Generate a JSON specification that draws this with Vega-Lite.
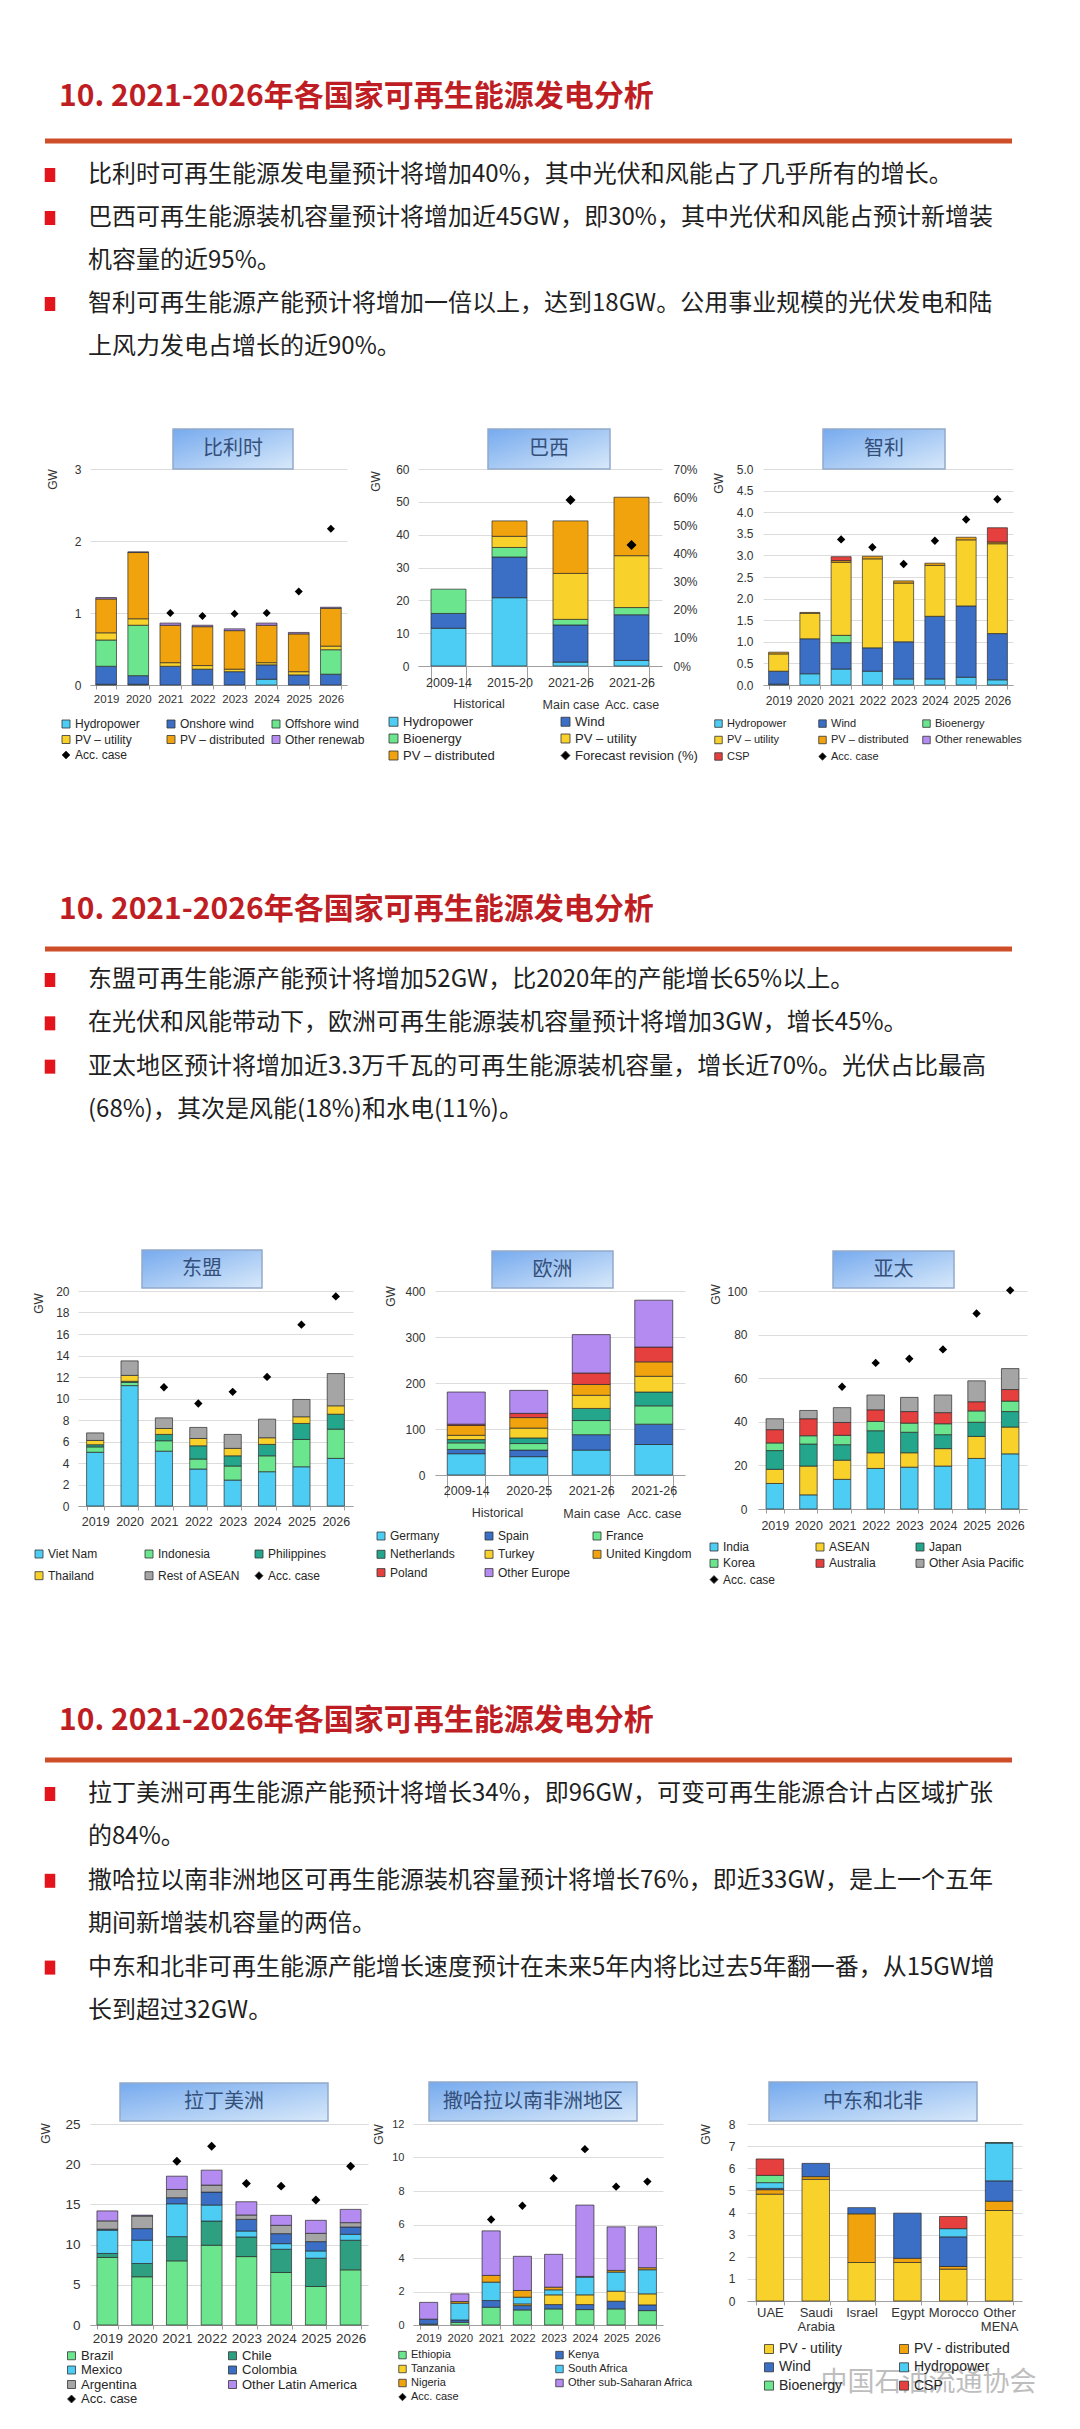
{
"$schema":"https://vega.github.io/schema/vega-lite/v6.json",
"background":"white","padding":0,"spacing":0,
"resolve":{"scale":{"color":"independent","shape":"independent"}},
"datasets":{
"be":[
{"c":"2019","s":"Hydropower","v":0.01,"k":0},{"c":"2019","s":"Onshore wind","v":0.25,"k":1},{"c":"2019","s":"Offshore wind","v":0.365,"k":2},{"c":"2019","s":"PV – utility","v":0.1,"k":3},{"c":"2019","s":"PV – distributed","v":0.47,"k":4},{"c":"2019","s":"Other renewables","v":0.02,"k":5},
{"c":"2020","s":"Hydropower","v":0.01,"k":0},{"c":"2020","s":"Onshore wind","v":0.12,"k":1},{"c":"2020","s":"Offshore wind","v":0.7,"k":2},{"c":"2020","s":"PV – utility","v":0.09,"k":3},{"c":"2020","s":"PV – distributed","v":0.92,"k":4},{"c":"2020","s":"Other renewables","v":0.01,"k":5},
{"c":"2021","s":"Onshore wind","v":0.26,"k":1},{"c":"2021","s":"PV – utility","v":0.05,"k":3},{"c":"2021","s":"PV – distributed","v":0.52,"k":4},{"c":"2021","s":"Other renewables","v":0.03,"k":5},
{"c":"2022","s":"Onshore wind","v":0.22,"k":1},{"c":"2022","s":"PV – utility","v":0.05,"k":3},{"c":"2022","s":"PV – distributed","v":0.54,"k":4},{"c":"2022","s":"Other renewables","v":0.02,"k":5},
{"c":"2023","s":"Onshore wind","v":0.185,"k":1},{"c":"2023","s":"PV – utility","v":0.035,"k":3},{"c":"2023","s":"PV – distributed","v":0.535,"k":4},{"c":"2023","s":"Other renewables","v":0.025,"k":5},
{"c":"2024","s":"Hydropower","v":0.08,"k":0},{"c":"2024","s":"Onshore wind","v":0.2,"k":1},{"c":"2024","s":"PV – utility","v":0.03,"k":3},{"c":"2024","s":"PV – distributed","v":0.52,"k":4},{"c":"2024","s":"Other renewables","v":0.03,"k":5},
{"c":"2025","s":"Onshore wind","v":0.14,"k":1},{"c":"2025","s":"PV – utility","v":0.045,"k":3},{"c":"2025","s":"PV – distributed","v":0.525,"k":4},{"c":"2025","s":"Other renewables","v":0.02,"k":5},
{"c":"2026","s":"Onshore wind","v":0.15,"k":1},{"c":"2026","s":"Offshore wind","v":0.34,"k":2},{"c":"2026","s":"PV – utility","v":0.05,"k":3},{"c":"2026","s":"PV – distributed","v":0.525,"k":4},{"c":"2026","s":"Other renewables","v":0.015,"k":5}],
"be_acc":[{"c":"2021","s":"Acc. case","v":1.0},{"c":"2022","s":"Acc. case","v":0.96},{"c":"2023","s":"Acc. case","v":0.99},{"c":"2024","s":"Acc. case","v":1.0},{"c":"2025","s":"Acc. case","v":1.3},{"c":"2026","s":"Acc. case","v":2.17}],
"br":[
{"c":"2009-14","s":"Hydropower","v":11.5,"k":0},{"c":"2009-14","s":"Wind","v":4.5,"k":1},{"c":"2009-14","s":"Bioenergy","v":7.4,"k":2},
{"c":"2015-20","s":"Hydropower","v":20.8,"k":0},{"c":"2015-20","s":"Wind","v":12.4,"k":1},{"c":"2015-20","s":"Bioenergy","v":2.9,"k":2},{"c":"2015-20","s":"PV – utility","v":3.4,"k":3},{"c":"2015-20","s":"PV – distributed","v":4.7,"k":4},
{"c":"2021-26 Main case","s":"Hydropower","v":1.2,"k":0},{"c":"2021-26 Main case","s":"Wind","v":11.3,"k":1},{"c":"2021-26 Main case","s":"Bioenergy","v":1.7,"k":2},{"c":"2021-26 Main case","s":"PV – utility","v":14.0,"k":3},{"c":"2021-26 Main case","s":"PV – distributed","v":16.0,"k":4},
{"c":"2021-26 Acc. case","s":"Hydropower","v":1.7,"k":0},{"c":"2021-26 Acc. case","s":"Wind","v":13.9,"k":1},{"c":"2021-26 Acc. case","s":"Bioenergy","v":2.2,"k":2},{"c":"2021-26 Acc. case","s":"PV – utility","v":15.8,"k":3},{"c":"2021-26 Acc. case","s":"PV – distributed","v":17.8,"k":4}],
"br_fr":[{"c":"2021-26 Main case","s":"Forecast revision (%)","v":0.59},{"c":"2021-26 Acc. case","s":"Forecast revision (%)","v":0.43}],
"cl":[
{"c":"2019","s":"Hydropower","v":0.02,"k":0},{"c":"2019","s":"Wind","v":0.3,"k":1},{"c":"2019","s":"PV – utility","v":0.4,"k":3},{"c":"2019","s":"PV – distributed","v":0.04,"k":4},
{"c":"2020","s":"Hydropower","v":0.26,"k":0},{"c":"2020","s":"Wind","v":0.81,"k":1},{"c":"2020","s":"PV – utility","v":0.59,"k":3},{"c":"2020","s":"PV – distributed","v":0.02,"k":4},
{"c":"2021","s":"Hydropower","v":0.37,"k":0},{"c":"2021","s":"Wind","v":0.61,"k":1},{"c":"2021","s":"Bioenergy","v":0.17,"k":2},{"c":"2021","s":"PV – utility","v":1.69,"k":3},{"c":"2021","s":"PV – distributed","v":0.04,"k":4},{"c":"2021","s":"CSP","v":0.09,"k":6},
{"c":"2022","s":"Hydropower","v":0.32,"k":0},{"c":"2022","s":"Wind","v":0.54,"k":1},{"c":"2022","s":"PV – utility","v":2.06,"k":3},{"c":"2022","s":"PV – distributed","v":0.06,"k":4},
{"c":"2023","s":"Hydropower","v":0.14,"k":0},{"c":"2023","s":"Wind","v":0.86,"k":1},{"c":"2023","s":"PV – utility","v":1.36,"k":3},{"c":"2023","s":"PV – distributed","v":0.05,"k":4},
{"c":"2024","s":"Hydropower","v":0.14,"k":0},{"c":"2024","s":"Wind","v":1.45,"k":1},{"c":"2024","s":"PV – utility","v":1.18,"k":3},{"c":"2024","s":"PV – distributed","v":0.05,"k":4},
{"c":"2025","s":"Hydropower","v":0.18,"k":0},{"c":"2025","s":"Wind","v":1.65,"k":1},{"c":"2025","s":"PV – utility","v":1.53,"k":3},{"c":"2025","s":"PV – distributed","v":0.06,"k":4},
{"c":"2026","s":"Hydropower","v":0.12,"k":0},{"c":"2026","s":"Wind","v":1.07,"k":1},{"c":"2026","s":"PV – utility","v":2.08,"k":3},{"c":"2026","s":"PV – distributed","v":0.04,"k":4},{"c":"2026","s":"CSP","v":0.33,"k":6}],
"cl_acc":[{"c":"2021","s":"Acc. case","v":3.37},{"c":"2022","s":"Acc. case","v":3.19},{"c":"2023","s":"Acc. case","v":2.8},{"c":"2024","s":"Acc. case","v":3.34},{"c":"2025","s":"Acc. case","v":3.83},{"c":"2026","s":"Acc. case","v":4.3}],
"as":[
{"c":"2019","s":"Viet Nam","v":5.0,"k":0},{"c":"2019","s":"Indonesia","v":0.5,"k":1},{"c":"2019","s":"Philippines","v":0.2,"k":2},{"c":"2019","s":"Thailand","v":0.4,"k":3},{"c":"2019","s":"Rest of ASEAN","v":0.7,"k":4},
{"c":"2020","s":"Viet Nam","v":11.2,"k":0},{"c":"2020","s":"Indonesia","v":0.3,"k":1},{"c":"2020","s":"Philippines","v":0.1,"k":2},{"c":"2020","s":"Thailand","v":0.55,"k":3},{"c":"2020","s":"Rest of ASEAN","v":1.35,"k":4},
{"c":"2021","s":"Viet Nam","v":5.1,"k":0},{"c":"2021","s":"Indonesia","v":0.97,"k":1},{"c":"2021","s":"Philippines","v":0.59,"k":2},{"c":"2021","s":"Thailand","v":0.55,"k":3},{"c":"2021","s":"Rest of ASEAN","v":0.99,"k":4},
{"c":"2022","s":"Viet Nam","v":3.44,"k":0},{"c":"2022","s":"Indonesia","v":0.93,"k":1},{"c":"2022","s":"Philippines","v":1.23,"k":2},{"c":"2022","s":"Thailand","v":0.68,"k":3},{"c":"2022","s":"Rest of ASEAN","v":1.03,"k":4},
{"c":"2023","s":"Viet Nam","v":2.41,"k":0},{"c":"2023","s":"Indonesia","v":1.31,"k":1},{"c":"2023","s":"Philippines","v":0.95,"k":2},{"c":"2023","s":"Thailand","v":0.69,"k":3},{"c":"2023","s":"Rest of ASEAN","v":1.3,"k":4},
{"c":"2024","s":"Viet Nam","v":3.19,"k":0},{"c":"2024","s":"Indonesia","v":1.48,"k":1},{"c":"2024","s":"Philippines","v":1.06,"k":2},{"c":"2024","s":"Thailand","v":0.62,"k":3},{"c":"2024","s":"Rest of ASEAN","v":1.73,"k":4},
{"c":"2025","s":"Viet Nam","v":3.65,"k":0},{"c":"2025","s":"Indonesia","v":2.54,"k":1},{"c":"2025","s":"Philippines","v":1.49,"k":2},{"c":"2025","s":"Thailand","v":0.62,"k":3},{"c":"2025","s":"Rest of ASEAN","v":1.61,"k":4},
{"c":"2026","s":"Viet Nam","v":4.43,"k":0},{"c":"2026","s":"Indonesia","v":2.72,"k":1},{"c":"2026","s":"Philippines","v":1.39,"k":2},{"c":"2026","s":"Thailand","v":0.78,"k":3},{"c":"2026","s":"Rest of ASEAN","v":3.0,"k":4}],
"as_acc":[{"c":"2021","s":"Acc. case","v":11.05},{"c":"2022","s":"Acc. case","v":9.54},{"c":"2023","s":"Acc. case","v":10.62},{"c":"2024","s":"Acc. case","v":12.01},{"c":"2025","s":"Acc. case","v":16.87},{"c":"2026","s":"Acc. case","v":19.5}],
"eu":[
{"c":"2009-14","s":"Germany","v":46.3,"k":0},{"c":"2009-14","s":"Spain","v":9.3,"k":1},{"c":"2009-14","s":"France","v":14.3,"k":2},{"c":"2009-14","s":"Netherlands","v":7.1,"k":3},{"c":"2009-14","s":"Turkey","v":9.3,"k":4},{"c":"2009-14","s":"United Kingdom","v":21.4,"k":5},{"c":"2009-14","s":"Poland","v":2.8,"k":6},{"c":"2009-14","s":"Other Europe","v":69.9,"k":7},
{"c":"2020-25","s":"Germany","v":39.9,"k":0},{"c":"2020-25","s":"Spain","v":14.3,"k":1},{"c":"2020-25","s":"France","v":14.2,"k":2},{"c":"2020-25","s":"Netherlands","v":12.2,"k":3},{"c":"2020-25","s":"Turkey","v":21.4,"k":4},{"c":"2020-25","s":"United Kingdom","v":22.8,"k":5},{"c":"2020-25","s":"Poland","v":9.2,"k":6},{"c":"2020-25","s":"Other Europe","v":50.0,"k":7},
{"c":"2021-26 Main case","s":"Germany","v":54.2,"k":0},{"c":"2021-26 Main case","s":"Spain","v":33.5,"k":1},{"c":"2021-26 Main case","s":"France","v":30.7,"k":2},{"c":"2021-26 Main case","s":"Netherlands","v":26.3,"k":3},{"c":"2021-26 Main case","s":"Turkey","v":28.6,"k":4},{"c":"2021-26 Main case","s":"United Kingdom","v":23.5,"k":5},{"c":"2021-26 Main case","s":"Poland","v":24.9,"k":6},{"c":"2021-26 Main case","s":"Other Europe","v":83.5,"k":7},
{"c":"2021-26 Acc. case","s":"Germany","v":66.3,"k":0},{"c":"2021-26 Acc. case","s":"Spain","v":44.2,"k":1},{"c":"2021-26 Acc. case","s":"France","v":39.9,"k":2},{"c":"2021-26 Acc. case","s":"Netherlands","v":30.0,"k":3},{"c":"2021-26 Acc. case","s":"Turkey","v":34.2,"k":4},{"c":"2021-26 Acc. case","s":"United Kingdom","v":31.4,"k":5},{"c":"2021-26 Acc. case","s":"Poland","v":32.1,"k":6},{"c":"2021-26 Acc. case","s":"Other Europe","v":101.9,"k":7}],
"ap":[
{"c":"2019","s":"India","v":11.7,"k":0},{"c":"2019","s":"ASEAN","v":6.5,"k":1},{"c":"2019","s":"Japan","v":8.6,"k":2},{"c":"2019","s":"Korea","v":3.5,"k":3},{"c":"2019","s":"Australia","v":6.1,"k":4},{"c":"2019","s":"Other Asia Pacific","v":5.0,"k":5},
{"c":"2020","s":"India","v":6.5,"k":0},{"c":"2020","s":"ASEAN","v":13.2,"k":1},{"c":"2020","s":"Japan","v":10.1,"k":2},{"c":"2020","s":"Korea","v":3.8,"k":3},{"c":"2020","s":"Australia","v":7.8,"k":4},{"c":"2020","s":"Other Asia Pacific","v":3.8,"k":5},
{"c":"2021","s":"India","v":13.6,"k":0},{"c":"2021","s":"ASEAN","v":8.8,"k":1},{"c":"2021","s":"Japan","v":7.1,"k":2},{"c":"2021","s":"Korea","v":4.3,"k":3},{"c":"2021","s":"Australia","v":5.9,"k":4},{"c":"2021","s":"Other Asia Pacific","v":6.8,"k":5},
{"c":"2022","s":"India","v":18.6,"k":0},{"c":"2022","s":"ASEAN","v":7.2,"k":1},{"c":"2022","s":"Japan","v":10.1,"k":2},{"c":"2022","s":"Korea","v":4.3,"k":3},{"c":"2022","s":"Australia","v":5.3,"k":4},{"c":"2022","s":"Other Asia Pacific","v":6.8,"k":5},
{"c":"2023","s":"India","v":19.2,"k":0},{"c":"2023","s":"ASEAN","v":6.6,"k":1},{"c":"2023","s":"Japan","v":9.4,"k":2},{"c":"2023","s":"Korea","v":4.2,"k":3},{"c":"2023","s":"Australia","v":5.3,"k":4},{"c":"2023","s":"Other Asia Pacific","v":6.5,"k":5},
{"c":"2024","s":"India","v":19.7,"k":0},{"c":"2024","s":"ASEAN","v":8.0,"k":1},{"c":"2024","s":"Japan","v":6.4,"k":2},{"c":"2024","s":"Korea","v":5.0,"k":3},{"c":"2024","s":"Australia","v":5.1,"k":4},{"c":"2024","s":"Other Asia Pacific","v":8.1,"k":5},
{"c":"2025","s":"India","v":23.2,"k":0},{"c":"2025","s":"ASEAN","v":10.1,"k":1},{"c":"2025","s":"Japan","v":6.5,"k":2},{"c":"2025","s":"Korea","v":5.2,"k":3},{"c":"2025","s":"Australia","v":4.2,"k":4},{"c":"2025","s":"Other Asia Pacific","v":9.6,"k":5},
{"c":"2026","s":"India","v":25.3,"k":0},{"c":"2026","s":"ASEAN","v":12.3,"k":1},{"c":"2026","s":"Japan","v":7.1,"k":2},{"c":"2026","s":"Korea","v":4.8,"k":3},{"c":"2026","s":"Australia","v":5.3,"k":4},{"c":"2026","s":"Other Asia Pacific","v":9.6,"k":5}],
"ap_acc":[{"c":"2021","s":"Acc. case","v":56.1},{"c":"2022","s":"Acc. case","v":67.0},{"c":"2023","s":"Acc. case","v":68.9},{"c":"2024","s":"Acc. case","v":73.2},{"c":"2025","s":"Acc. case","v":89.7},{"c":"2026","s":"Acc. case","v":100.3}],
"la":[
{"c":"2019","s":"Brazil","v":8.4,"k":0},{"c":"2019","s":"Chile","v":0.5,"k":1},{"c":"2019","s":"Mexico","v":2.9,"k":2},{"c":"2019","s":"Colombia","v":0.12,"k":3},{"c":"2019","s":"Argentina","v":1.03,"k":4},{"c":"2019","s":"Other Latin America","v":1.24,"k":5},
{"c":"2020","s":"Brazil","v":6.0,"k":0},{"c":"2020","s":"Chile","v":1.65,"k":1},{"c":"2020","s":"Mexico","v":2.9,"k":2},{"c":"2020","s":"Colombia","v":1.44,"k":3},{"c":"2020","s":"Argentina","v":1.57,"k":4},{"c":"2020","s":"Other Latin America","v":0.1,"k":5},
{"c":"2021","s":"Brazil","v":7.98,"k":0},{"c":"2021","s":"Chile","v":3.01,"k":1},{"c":"2021","s":"Mexico","v":4.09,"k":2},{"c":"2021","s":"Colombia","v":0.75,"k":3},{"c":"2021","s":"Argentina","v":1.03,"k":4},{"c":"2021","s":"Other Latin America","v":1.65,"k":5},
{"c":"2022","s":"Brazil","v":9.92,"k":0},{"c":"2022","s":"Chile","v":3.01,"k":1},{"c":"2022","s":"Mexico","v":1.99,"k":2},{"c":"2022","s":"Colombia","v":1.61,"k":3},{"c":"2022","s":"Argentina","v":0.87,"k":4},{"c":"2022","s":"Other Latin America","v":1.86,"k":5},
{"c":"2023","s":"Brazil","v":8.51,"k":0},{"c":"2023","s":"Chile","v":2.44,"k":1},{"c":"2023","s":"Mexico","v":0.74,"k":2},{"c":"2023","s":"Colombia","v":1.45,"k":3},{"c":"2023","s":"Argentina","v":0.54,"k":4},{"c":"2023","s":"Other Latin America","v":1.65,"k":5},
{"c":"2024","s":"Brazil","v":6.53,"k":0},{"c":"2024","s":"Chile","v":2.89,"k":1},{"c":"2024","s":"Mexico","v":0.7,"k":2},{"c":"2024","s":"Colombia","v":1.24,"k":3},{"c":"2024","s":"Argentina","v":1.04,"k":4},{"c":"2024","s":"Other Latin America","v":1.24,"k":5},
{"c":"2025","s":"Brazil","v":4.79,"k":0},{"c":"2025","s":"Chile","v":3.52,"k":1},{"c":"2025","s":"Mexico","v":0.9,"k":2},{"c":"2025","s":"Colombia","v":1.16,"k":3},{"c":"2025","s":"Argentina","v":1.03,"k":4},{"c":"2025","s":"Other Latin America","v":1.62,"k":5},
{"c":"2026","s":"Brazil","v":6.86,"k":0},{"c":"2026","s":"Chile","v":3.68,"k":1},{"c":"2026","s":"Mexico","v":0.74,"k":2},{"c":"2026","s":"Colombia","v":0.91,"k":3},{"c":"2026","s":"Argentina","v":0.54,"k":4},{"c":"2026","s":"Other Latin America","v":1.65,"k":5}],
"la_acc":[{"c":"2021","s":"Acc. case","v":20.37},{"c":"2022","s":"Acc. case","v":22.23},{"c":"2023","s":"Acc. case","v":17.6},{"c":"2024","s":"Acc. case","v":17.27},{"c":"2025","s":"Acc. case","v":15.54},{"c":"2026","s":"Acc. case","v":19.75}],
"ssa":[
{"c":"2019","s":"Ethiopia","v":0.05,"k":0},{"c":"2019","s":"Kenya","v":0.3,"k":1},{"c":"2019","s":"Other sub-Saharan Africa","v":1.0,"k":5},
{"c":"2020","s":"Ethiopia","v":0.16,"k":0},{"c":"2020","s":"Kenya","v":0.14,"k":1},{"c":"2020","s":"South Africa","v":1.0,"k":3},{"c":"2020","s":"Nigeria","v":0.1,"k":4},{"c":"2020","s":"Other sub-Saharan Africa","v":0.46,"k":5},
{"c":"2021","s":"Ethiopia","v":1.06,"k":0},{"c":"2021","s":"Kenya","v":0.4,"k":1},{"c":"2021","s":"South Africa","v":1.1,"k":3},{"c":"2021","s":"Nigeria","v":0.4,"k":4},{"c":"2021","s":"Other sub-Saharan Africa","v":2.66,"k":5},
{"c":"2022","s":"Ethiopia","v":0.9,"k":0},{"c":"2022","s":"Kenya","v":0.26,"k":1},{"c":"2022","s":"Tanzania","v":0.1,"k":2},{"c":"2022","s":"South Africa","v":0.4,"k":3},{"c":"2022","s":"Nigeria","v":0.4,"k":4},{"c":"2022","s":"Other sub-Saharan Africa","v":2.04,"k":5},
{"c":"2023","s":"Ethiopia","v":0.96,"k":0},{"c":"2023","s":"Kenya","v":0.26,"k":1},{"c":"2023","s":"Tanzania","v":0.58,"k":2},{"c":"2023","s":"South Africa","v":0.3,"k":3},{"c":"2023","s":"Nigeria","v":0.16,"k":4},{"c":"2023","s":"Other sub-Saharan Africa","v":1.96,"k":5},
{"c":"2024","s":"Ethiopia","v":0.92,"k":0},{"c":"2024","s":"Kenya","v":0.3,"k":1},{"c":"2024","s":"Tanzania","v":0.58,"k":2},{"c":"2024","s":"South Africa","v":1.06,"k":3},{"c":"2024","s":"Nigeria","v":0.04,"k":4},{"c":"2024","s":"Other sub-Saharan Africa","v":4.26,"k":5},
{"c":"2025","s":"Ethiopia","v":0.96,"k":0},{"c":"2025","s":"Kenya","v":0.46,"k":1},{"c":"2025","s":"Tanzania","v":0.6,"k":2},{"c":"2025","s":"South Africa","v":1.14,"k":3},{"c":"2025","s":"Nigeria","v":0.1,"k":4},{"c":"2025","s":"Other sub-Saharan Africa","v":2.6,"k":5},
{"c":"2026","s":"Ethiopia","v":0.86,"k":0},{"c":"2026","s":"Kenya","v":0.34,"k":1},{"c":"2026","s":"Tanzania","v":0.66,"k":2},{"c":"2026","s":"South Africa","v":1.44,"k":3},{"c":"2026","s":"Nigeria","v":0.12,"k":4},{"c":"2026","s":"Other sub-Saharan Africa","v":2.44,"k":5}],
"ssa_acc":[{"c":"2021","s":"Acc. case","v":6.3},{"c":"2022","s":"Acc. case","v":7.12},{"c":"2023","s":"Acc. case","v":8.76},{"c":"2024","s":"Acc. case","v":10.5},{"c":"2025","s":"Acc. case","v":8.26},{"c":"2026","s":"Acc. case","v":8.56}],
"mena":[
{"c":"UAE","s":"PV - utility","v":4.83,"k":0},{"c":"UAE","s":"PV - distributed","v":0.2,"k":1},{"c":"UAE","s":"Wind","v":0.06,"k":2},{"c":"UAE","s":"Hydropower","v":0.26,"k":3},{"c":"UAE","s":"Bioenergy","v":0.33,"k":4},{"c":"UAE","s":"CSP","v":0.74,"k":5},
{"c":"Saudi Arabia","s":"PV - utility","v":5.5,"k":0},{"c":"Saudi Arabia","s":"PV - distributed","v":0.12,"k":1},{"c":"Saudi Arabia","s":"Wind","v":0.6,"k":2},
{"c":"Israel","s":"PV - utility","v":1.74,"k":0},{"c":"Israel","s":"PV - distributed","v":2.2,"k":1},{"c":"Israel","s":"Wind","v":0.28,"k":2},
{"c":"Egypt","s":"PV - utility","v":1.74,"k":0},{"c":"Egypt","s":"PV - distributed","v":0.19,"k":1},{"c":"Egypt","s":"Wind","v":2.04,"k":2},
{"c":"Morocco","s":"PV - utility","v":1.44,"k":0},{"c":"Morocco","s":"PV - distributed","v":0.12,"k":1},{"c":"Morocco","s":"Wind","v":1.34,"k":2},{"c":"Morocco","s":"Hydropower","v":0.37,"k":3},{"c":"Morocco","s":"CSP","v":0.55,"k":5},
{"c":"Other MENA","s":"PV - utility","v":4.09,"k":0},{"c":"Other MENA","s":"PV - distributed","v":0.42,"k":1},{"c":"Other MENA","s":"Wind","v":0.92,"k":2},{"c":"Other MENA","s":"Hydropower","v":1.71,"k":3},{"c":"Other MENA","s":"Bioenergy","v":0.02,"k":4}]
},
"vconcat":[
{"width":1075,"height":428,
 "layer":[
  {"data":{"values":[{"line":0,"t":"10. 2021-2026年各国家可再生能源发电分析"}]},
   "mark":{"type":"text","align":"left","baseline":"middle","font":"Noto Sans CJK SC","fontSize":30,"fontWeight":"bold","color":"#BE1E23"},
   "encoding":{"x":{"datum":2,"type":"quantitative","scale":{"domain":[0,1,2,3,4],"range":[45,50,59,88,1012],"nice":false,"zero":false},"axis":null},"y":{"field":"line","type":"quantitative","scale":{"domain":[0,1,2,6],"range":[97,141,175,347],"nice":false,"zero":false},"axis":null},"text":{"field":"t"}}},
  {"data":{"values":[{"line":1}]},
   "mark":{"type":"rule","color":"#CD4E28","strokeWidth":5},
   "encoding":{"x":{"datum":0,"type":"quantitative","scale":{"domain":[0,1,2,3,4],"range":[45,50,59,88,1012],"nice":false,"zero":false},"axis":null},"x2":{"datum":4},"y":{"field":"line","type":"quantitative","scale":{"domain":[0,1,2,6],"range":[97,141,175,347],"nice":false,"zero":false},"axis":null}}},
  {"data":{"values":[{"line":2},{"line":3},{"line":5}]},
   "mark":{"type":"point","shape":"M-0.75,-1L0.75,-1L0.75,1L-0.75,1Z","filled":true,"color":"#E3141B","opacity":1,"size":196,"strokeWidth":0},
   "encoding":{"x":{"datum":1,"type":"quantitative","scale":{"domain":[0,1,2,3,4],"range":[45,50,59,88,1012],"nice":false,"zero":false},"axis":null},"y":{"field":"line","type":"quantitative","scale":{"domain":[0,1,2,6],"range":[97,141,175,347],"nice":false,"zero":false},"axis":null}}},
  {"data":{"values":[
    {"line":2,"t":"比利时可再生能源发电量预计将增加40%，其中光伏和风能占了几乎所有的增长。"},
    {"line":3,"t":"巴西可再生能源装机容量预计将增加近45GW，即30%，其中光伏和风能占预计新增装"},
    {"line":4,"t":"机容量的近95%。"},
    {"line":5,"t":"智利可再生能源产能预计将增加一倍以上，达到18GW。公用事业规模的光伏发电和陆"},
    {"line":6,"t":"上风力发电占增长的近90%。"}]},
   "mark":{"type":"text","align":"left","baseline":"middle","font":"Noto Sans CJK SC","fontSize":24,"color":"#1F1F1F"},
   "encoding":{"x":{"datum":3,"type":"quantitative","scale":{"domain":[0,1,2,3,4],"range":[45,50,59,88,1012],"nice":false,"zero":false},"axis":null},"y":{"field":"line","type":"quantitative","scale":{"domain":[0,1,2,6],"range":[97,141,175,347],"nice":false,"zero":false},"axis":null},"text":{"field":"t"}}}
 ]},
{"hconcat":[
 {"width":90,"height":310,"data":{"values":[]},"mark":"text","encoding":{}},
 {"width":257,"height":216,
  "resolve":{"scale":{"x":"independent","y":"independent"}},
  "layer":[
   {"layer":[
    {"data":{"name":"be"},"mark":{"type":"bar","stroke":"#2B2B2B","strokeWidth":0.7,"opacity":1},
     "encoding":{
      "x":{"field":"c","type":"nominal","scale":{"paddingInner":0.355,"paddingOuter":0.18},"axis":{"title":null,"labelPadding":4,"labelFontSize":11.5}},
      "y":{"field":"v","type":"quantitative","stack":"zero","scale":{"domain":[0,3],"nice":false},"axis":{"values":[0,1,2,3],"tickCount":20,"format":"d","title":"GW","titleX":-38,"titleY":10,"titleAlign":"center","titleBaseline":"middle","labelPadding":9}},
      "color":{"field":"s","type":"nominal","scale":{"domain":["Hydropower","Onshore wind","Offshore wind","PV – utility","PV – distributed","Other renewables","Acc. case"],"range":["#4ECDF4","#3B6FC6","#6BE58E","#F9D12B","#F0A30C","#B48BF0","#000000"]},
       "legend":{"orient":"none","direction":"horizontal","legendX":-30,"legendY":249,"columns":3,"gridAlign":"all","columnPadding":5,"rowPadding":3.5,"labelFontSize":12,"symbolSize":64,"title":null,"labelExpr":"datum.label == 'Other renewables' ? 'Other renewab' : datum.label"}},
      "order":{"field":"k","type":"quantitative"}}},
    {"data":{"name":"be_acc"},"mark":{"type":"point","filled":true,"opacity":1,"size":64,"strokeWidth":0},
     "encoding":{
      "x":{"field":"c","type":"nominal"},
      "y":{"field":"v","type":"quantitative"},
      "color":{"field":"s","type":"nominal","scale":{"domain":["Hydropower","Onshore wind","Offshore wind","PV – utility","PV – distributed","Other renewables","Acc. case"],"range":["#4ECDF4","#3B6FC6","#6BE58E","#F9D12B","#F0A30C","#B48BF0","#000000"]}},
      "shape":{"field":"s","type":"nominal","scale":{"domain":["Hydropower","Onshore wind","Offshore wind","PV – utility","PV – distributed","Other renewables","Acc. case"],"range":["square","square","square","square","square","square","diamond"]},"legend":{"title":null}}}}]},
   {"data":{"values":[{"t":"比利时"}]},
    "layer":[
     {"mark":{"type":"rect","stroke":"#93A9CA","strokeWidth":1.5,"fill":{"gradient":"linear","x1":0,"y1":0,"x2":1,"y2":1,"stops":[{"offset":0,"color":"#76AAEE"},{"offset":1,"color":"#D8E9FA"}]}},
      "encoding":{"x":{"datum":0,"type":"quantitative","scale":{"domain":[0,1],"range":[83,203]},"axis":null},"x2":{"datum":1},"y":{"datum":0,"type":"quantitative","scale":{"domain":[0,1],"range":[0,-40]},"axis":null},"y2":{"datum":1}}},
     {"mark":{"type":"text","font":"Noto Sans CJK SC","fontSize":20,"color":"#34507A"},
      "encoding":{"x":{"datum":0.5,"type":"quantitative","scale":{"domain":[0,1],"range":[83,203]},"axis":null},"y":{"datum":0.5,"type":"quantitative","scale":{"domain":[0,1],"range":[0,-40]},"axis":null},"text":{"field":"t"}}}]}
  ]},
 {"width":71,"height":1,"data":{"values":[]},"mark":"text","encoding":{}},
 {"width":244,"height":197,
  "resolve":{"scale":{"x":"independent","y":"independent"}},
  "layer":[
   {"resolve":{"scale":{"y":"independent"}},
    "layer":[
    {"data":{"name":"br"},"mark":{"type":"bar","stroke":"#2B2B2B","strokeWidth":0.7,"opacity":1},
     "encoding":{
      "x":{"field":"c","type":"nominal","scale":{"domain":["2009-14","2015-20","2021-26 Main case","2021-26 Acc. case"],"paddingInner":0.426,"paddingOuter":0.213},
       "axis":{"title":null,"tickSize":22,"labelPadding":-12,"labelLineHeight":22,"labelFontSize":12.5,"labelExpr":"datum.value == '2021-26 Main case' ? ['2021-26', 'Main case'] : datum.value == '2021-26 Acc. case' ? ['2021-26', 'Acc. case'] : datum.value"}},
      "y":{"field":"v","type":"quantitative","stack":"zero","scale":{"domain":[0,60],"nice":false},"axis":{"values":[0,10,20,30,40,50,60],"tickCount":20,"format":"d","title":"GW","titleX":-43,"titleY":12,"titleAlign":"center","titleBaseline":"middle","labelPadding":9}},
      "color":{"field":"s","type":"nominal","scale":{"domain":["Hydropower","Wind","Bioenergy","PV – utility","PV – distributed","Forecast revision (%)"],"range":["#4ECDF4","#3B6FC6","#6BE58E","#F9D12B","#F0A30C","#000000"]},
       "legend":{"orient":"none","direction":"horizontal","legendX":-31,"legendY":246,"columns":2,"gridAlign":"all","columnPadding":33,"rowPadding":3,"labelFontSize":13,"symbolSize":81,"title":null}},
      "order":{"field":"k","type":"quantitative"}}},
    {"data":{"name":"br_fr"},"mark":{"type":"point","filled":true,"opacity":1,"size":100,"strokeWidth":0},
     "encoding":{
      "x":{"field":"c","type":"nominal"},
      "y":{"field":"v","type":"quantitative","scale":{"domain":[0,0.7],"nice":false},"axis":{"orient":"right","format":".0%","values":[0,0.1,0.2,0.3,0.4,0.5,0.6,0.7],"tickCount":20,"grid":false,"title":null,"labelPadding":11}},
      "color":{"field":"s","type":"nominal","scale":{"domain":["Hydropower","Wind","Bioenergy","PV – utility","PV – distributed","Forecast revision (%)"],"range":["#4ECDF4","#3B6FC6","#6BE58E","#F9D12B","#F0A30C","#000000"]}},
      "shape":{"field":"s","type":"nominal","scale":{"domain":["Hydropower","Wind","Bioenergy","PV – utility","PV – distributed","Forecast revision (%)"],"range":["square","square","square","square","square","diamond"]},"legend":{"title":null}}}},
    {"data":{"values":[{"c":"2009-14","t":"Historical"}]},
     "mark":{"type":"text","dy":136,"fontSize":12.5,"font":"Liberation Sans","color":"#333333"},
     "encoding":{"x":{"field":"c","type":"nominal","bandPosition":1.371},"text":{"field":"t"}}}]},
   {"data":{"values":[{"t":"巴西"}]},
    "layer":[
     {"mark":{"type":"rect","stroke":"#93A9CA","strokeWidth":1.5,"fill":{"gradient":"linear","x1":0,"y1":0,"x2":1,"y2":1,"stops":[{"offset":0,"color":"#76AAEE"},{"offset":1,"color":"#D8E9FA"}]}},
      "encoding":{"x":{"datum":0,"type":"quantitative","scale":{"domain":[0,1],"range":[70,192]},"axis":null},"x2":{"datum":1},"y":{"datum":0,"type":"quantitative","scale":{"domain":[0,1],"range":[0,-40]},"axis":null},"y2":{"datum":1}}},
     {"mark":{"type":"text","font":"Noto Sans CJK SC","fontSize":20,"color":"#34507A"},
      "encoding":{"x":{"datum":0.5,"type":"quantitative","scale":{"domain":[0,1],"range":[70,192]},"axis":null},"y":{"datum":0.5,"type":"quantitative","scale":{"domain":[0,1],"range":[0,-40]},"axis":null},"text":{"field":"t"}}}]}
  ]},
 {"width":101,"height":1,"data":{"values":[]},"mark":"text","encoding":{}},
 {"width":250,"height":216,
  "resolve":{"scale":{"x":"independent","y":"independent"}},
  "layer":[
   {"layer":[
    {"data":{"name":"cl"},"mark":{"type":"bar","stroke":"#2B2B2B","strokeWidth":0.7,"opacity":1},
     "encoding":{
      "x":{"field":"c","type":"nominal","scale":{"paddingInner":0.36,"paddingOuter":0.18},"axis":{"title":null,"labelPadding":6,"labelFontSize":12}},
      "y":{"field":"v","type":"quantitative","stack":"zero","scale":{"domain":[0,5],"nice":false},"axis":{"values":[0,0.5,1,1.5,2,2.5,3,3.5,4,4.5,5],"tickCount":20,"format":".1f","title":"GW","titleX":-45,"titleY":14,"titleAlign":"center","titleBaseline":"middle","labelPadding":10}},
      "color":{"field":"s","type":"nominal","scale":{"domain":["Hydropower","Wind","Bioenergy","PV – utility","PV – distributed","Other renewables","CSP","Acc. case"],"range":["#4ECDF4","#3B6FC6","#6BE58E","#F9D12B","#F0A30C","#B48BF0","#E6403E","#000000"]},
       "legend":{"orient":"none","direction":"horizontal","legendX":-50,"legendY":249,"columns":3,"gridAlign":"all","columnPadding":3,"rowPadding":4.5,"labelFontSize":11,"symbolSize":56,"title":null}},
      "order":{"field":"k","type":"quantitative"}}},
    {"data":{"name":"cl_acc"},"mark":{"type":"point","filled":true,"opacity":1,"size":70,"strokeWidth":0},
     "encoding":{
      "x":{"field":"c","type":"nominal"},
      "y":{"field":"v","type":"quantitative"},
      "color":{"field":"s","type":"nominal","scale":{"domain":["Hydropower","Wind","Bioenergy","PV – utility","PV – distributed","Other renewables","CSP","Acc. case"],"range":["#4ECDF4","#3B6FC6","#6BE58E","#F9D12B","#F0A30C","#B48BF0","#E6403E","#000000"]}},
      "shape":{"field":"s","type":"nominal","scale":{"domain":["Hydropower","Wind","Bioenergy","PV – utility","PV – distributed","Other renewables","CSP","Acc. case"],"range":["square","square","square","square","square","square","square","diamond"]},"legend":{"title":null}}}}]},
   {"data":{"values":[{"t":"智利"}]},
    "layer":[
     {"mark":{"type":"rect","stroke":"#93A9CA","strokeWidth":1.5,"fill":{"gradient":"linear","x1":0,"y1":0,"x2":1,"y2":1,"stops":[{"offset":0,"color":"#76AAEE"},{"offset":1,"color":"#D8E9FA"}]}},
      "encoding":{"x":{"datum":0,"type":"quantitative","scale":{"domain":[0,1],"range":[60,182]},"axis":null},"x2":{"datum":1},"y":{"datum":0,"type":"quantitative","scale":{"domain":[0,1],"range":[0,-40]},"axis":null},"y2":{"datum":1}}},
     {"mark":{"type":"text","font":"Noto Sans CJK SC","fontSize":20,"color":"#34507A"},
      "encoding":{"x":{"datum":0.5,"type":"quantitative","scale":{"domain":[0,1],"range":[60,182]},"axis":null},"y":{"datum":0.5,"type":"quantitative","scale":{"domain":[0,1],"range":[0,-40]},"axis":null},"text":{"field":"t"}}}]}
  ]}
 ],"spacing":0,"bounds":"flush","resolve":{"scale":{"color":"independent","shape":"independent"}}},

{"width":1075,"height":470,
 "layer":[
  {"data":{"values":[{"line":0,"t":"10. 2021-2026年各国家可再生能源发电分析"}]},
   "mark":{"type":"text","align":"left","baseline":"middle","font":"Noto Sans CJK SC","fontSize":30,"fontWeight":"bold","color":"#BE1E23"},
   "encoding":{"x":{"datum":2,"type":"quantitative","scale":{"domain":[0,1,2,3,4],"range":[45,50,59,88,1012],"nice":false,"zero":false},"axis":null},"y":{"field":"line","type":"quantitative","scale":{"domain":[0,1,2,5],"range":[131,170,201,331],"nice":false,"zero":false},"axis":null},"text":{"field":"t"}}},
  {"data":{"values":[{"line":1}]},
   "mark":{"type":"rule","color":"#CD4E28","strokeWidth":5},
   "encoding":{"x":{"datum":0,"type":"quantitative","scale":{"domain":[0,1,2,3,4],"range":[45,50,59,88,1012],"nice":false,"zero":false},"axis":null},"x2":{"datum":4},"y":{"field":"line","type":"quantitative","scale":{"domain":[0,1,2,5],"range":[131,170,201,331],"nice":false,"zero":false},"axis":null}}},
  {"data":{"values":[{"line":2},{"line":3},{"line":4}]},
   "mark":{"type":"point","shape":"M-0.75,-1L0.75,-1L0.75,1L-0.75,1Z","filled":true,"color":"#E3141B","opacity":1,"size":196,"strokeWidth":0},
   "encoding":{"x":{"datum":1,"type":"quantitative","scale":{"domain":[0,1,2,3,4],"range":[45,50,59,88,1012],"nice":false,"zero":false},"axis":null},"y":{"field":"line","type":"quantitative","scale":{"domain":[0,1,2,5],"range":[131,170,201,331],"nice":false,"zero":false},"axis":null}}},
  {"data":{"values":[
    {"line":2,"t":"东盟可再生能源产能预计将增加52GW，比2020年的产能增长65%以上。"},
    {"line":3,"t":"在光伏和风能带动下，欧洲可再生能源装机容量预计将增加3GW，增长45%。"},
    {"line":4,"t":"亚太地区预计将增加近3.3万千瓦的可再生能源装机容量，增长近70%。光伏占比最高"},
    {"line":5,"t":"(68%)，其次是风能(18%)和水电(11%)。"}]},
   "mark":{"type":"text","align":"left","baseline":"middle","font":"Noto Sans CJK SC","fontSize":24,"color":"#1F1F1F"},
   "encoding":{"x":{"datum":3,"type":"quantitative","scale":{"domain":[0,1,2,3,4],"range":[45,50,59,88,1012],"nice":false,"zero":false},"axis":null},"y":{"field":"line","type":"quantitative","scale":{"domain":[0,1,2,5],"range":[131,170,201,331],"nice":false,"zero":false},"axis":null},"text":{"field":"t"}}}
 ]},
{"hconcat":[
 {"width":78,"height":310,"data":{"values":[]},"mark":"text","encoding":{}},
 {"width":275,"height":215,
  "resolve":{"scale":{"x":"independent","y":"independent"}},
  "layer":[
   {"layer":[
    {"data":{"name":"as"},"mark":{"type":"bar","stroke":"#2B2B2B","strokeWidth":0.7,"opacity":1},
     "encoding":{
      "x":{"field":"c","type":"nominal","scale":{"paddingInner":0.5,"paddingOuter":0.25},"axis":{"title":null,"labelPadding":5.5,"labelFontSize":12.5}},
      "y":{"field":"v","type":"quantitative","stack":"zero","scale":{"domain":[0,20],"nice":false},"axis":{"values":[0,2,4,6,8,10,12,14,16,18,20],"tickCount":20,"format":"d","title":"GW","titleX":-40,"titleY":12,"titleAlign":"center","titleBaseline":"middle","labelPadding":9}},
      "color":{"field":"s","type":"nominal","scale":{"domain":["Viet Nam","Indonesia","Philippines","Thailand","Rest of ASEAN","Acc. case"],"range":["#4ECDF4","#6BE58E","#23A68C","#F9D12B","#A5A5A5","#000000"]},
       "legend":{"orient":"none","direction":"horizontal","legendX":-45,"legendY":257,"columns":3,"gridAlign":"all","columnPadding":12,"rowPadding":9.7,"labelFontSize":12,"symbolSize":64,"title":null}},
      "order":{"field":"k","type":"quantitative"}}},
    {"data":{"name":"as_acc"},"mark":{"type":"point","filled":true,"opacity":1,"size":70,"strokeWidth":0},
     "encoding":{
      "x":{"field":"c","type":"nominal"},
      "y":{"field":"v","type":"quantitative"},
      "color":{"field":"s","type":"nominal","scale":{"domain":["Viet Nam","Indonesia","Philippines","Thailand","Rest of ASEAN","Acc. case"],"range":["#4ECDF4","#6BE58E","#23A68C","#F9D12B","#A5A5A5","#000000"]}},
      "shape":{"field":"s","type":"nominal","scale":{"domain":["Viet Nam","Indonesia","Philippines","Thailand","Rest of ASEAN","Acc. case"],"range":["square","square","square","square","square","diamond"]},"legend":{"title":null}}}}]},
   {"data":{"values":[{"t":"东盟"}]},
    "layer":[
     {"mark":{"type":"rect","stroke":"#93A9CA","strokeWidth":1.5,"fill":{"gradient":"linear","x1":0,"y1":0,"x2":1,"y2":1,"stops":[{"offset":0,"color":"#76AAEE"},{"offset":1,"color":"#D8E9FA"}]}},
      "encoding":{"x":{"datum":0,"type":"quantitative","scale":{"domain":[0,1],"range":[64,184]},"axis":null},"x2":{"datum":1},"y":{"datum":0,"type":"quantitative","scale":{"domain":[0,1],"range":[-3,-41]},"axis":null},"y2":{"datum":1}}},
     {"mark":{"type":"text","font":"Noto Sans CJK SC","fontSize":20,"color":"#34507A"},
      "encoding":{"x":{"datum":0.5,"type":"quantitative","scale":{"domain":[0,1],"range":[64,184]},"axis":null},"y":{"datum":0.5,"type":"quantitative","scale":{"domain":[0,1],"range":[-3,-41]},"axis":null},"text":{"field":"t"}}}]}
  ]},
 {"width":82,"height":1,"data":{"values":[]},"mark":"text","encoding":{}},
 {"width":250,"height":184,
  "resolve":{"scale":{"x":"independent","y":"independent"}},
  "layer":[
   {"layer":[
    {"data":{"name":"eu"},"mark":{"type":"bar","stroke":"#2B2B2B","strokeWidth":0.7,"opacity":1},
     "encoding":{
      "x":{"field":"c","type":"nominal","scale":{"domain":["2009-14","2020-25","2021-26 Main case","2021-26 Acc. case"],"paddingInner":0.392,"paddingOuter":0.196},
       "axis":{"title":null,"tickSize":22,"labelPadding":-13,"labelLineHeight":23,"labelFontSize":12.5,"labelExpr":"datum.value == '2021-26 Main case' ? ['2021-26', 'Main case'] : datum.value == '2021-26 Acc. case' ? ['2021-26', 'Acc. case'] : datum.value"}},
      "y":{"field":"v","type":"quantitative","stack":"zero","scale":{"domain":[0,400],"nice":false},"axis":{"values":[0,100,200,300,400],"tickCount":20,"format":"d","title":"GW","titleX":-45,"titleY":5,"titleAlign":"center","titleBaseline":"middle","labelPadding":10}},
      "color":{"field":"s","type":"nominal","scale":{"domain":["Germany","Spain","France","Netherlands","Turkey","United Kingdom","Poland","Other Europe"],"range":["#4ECDF4","#3B6FC6","#6BE58E","#23A68C","#F9D12B","#F0A30C","#E6403E","#B48BF0"]},
       "legend":{"orient":"none","direction":"horizontal","legendX":-60,"legendY":239,"columns":3,"gridAlign":"all","columnPadding":7,"rowPadding":6.3,"labelFontSize":12,"symbolSize":64,"symbolType":"square","title":null}},
      "order":{"field":"k","type":"quantitative"}}},
    {"data":{"values":[{"c":"2009-14","t":"Historical"}]},
     "mark":{"type":"text","dy":130,"fontSize":12.5,"font":"Liberation Sans","color":"#333333"},
     "encoding":{"x":{"field":"c","type":"nominal","bandPosition":1.322},"text":{"field":"t"}}}]},
   {"data":{"values":[{"t":"欧洲"}]},
    "layer":[
     {"mark":{"type":"rect","stroke":"#93A9CA","strokeWidth":1.5,"fill":{"gradient":"linear","x1":0,"y1":0,"x2":1,"y2":1,"stops":[{"offset":0,"color":"#76AAEE"},{"offset":1,"color":"#D8E9FA"}]}},
      "encoding":{"x":{"datum":0,"type":"quantitative","scale":{"domain":[0,1],"range":[57,178]},"axis":null},"x2":{"datum":1},"y":{"datum":0,"type":"quantitative","scale":{"domain":[0,1],"range":[-3,-40]},"axis":null},"y2":{"datum":1}}},
     {"mark":{"type":"text","font":"Noto Sans CJK SC","fontSize":20,"color":"#34507A"},
      "encoding":{"x":{"datum":0.5,"type":"quantitative","scale":{"domain":[0,1],"range":[57,178]},"axis":null},"y":{"datum":0.5,"type":"quantitative","scale":{"domain":[0,1],"range":[-3,-40]},"axis":null},"text":{"field":"t"}}}]}
  ]},
 {"width":73,"height":1,"data":{"values":[]},"mark":"text","encoding":{}},
 {"width":269,"height":218,
  "resolve":{"scale":{"x":"independent","y":"independent"}},
  "layer":[
   {"layer":[
    {"data":{"name":"ap"},"mark":{"type":"bar","stroke":"#2B2B2B","strokeWidth":0.7,"opacity":1},
     "encoding":{
      "x":{"field":"c","type":"nominal","scale":{"paddingInner":0.48,"paddingOuter":0.24},"axis":{"title":null,"labelPadding":6,"labelFontSize":12.5}},
      "y":{"field":"v","type":"quantitative","stack":"zero","scale":{"domain":[0,100],"nice":false},"axis":{"values":[0,20,40,60,80,100],"tickCount":20,"format":"d","title":"GW","titleX":-43,"titleY":3,"titleAlign":"center","titleBaseline":"middle","labelPadding":11}},
      "color":{"field":"s","type":"nominal","scale":{"domain":["India","ASEAN","Japan","Korea","Australia","Other Asia Pacific","Acc. case"],"range":["#4ECDF4","#F9D12B","#23A68C","#6BE58E","#E6403E","#A5A5A5","#000000"]},
       "legend":{"orient":"none","direction":"horizontal","legendX":-50,"legendY":250,"columns":3,"gridAlign":"each","columnPadding":38,"rowPadding":4.3,"labelFontSize":12,"symbolSize":64,"title":null}},
      "order":{"field":"k","type":"quantitative"}}},
    {"data":{"name":"ap_acc"},"mark":{"type":"point","filled":true,"opacity":1,"size":70,"strokeWidth":0},
     "encoding":{
      "x":{"field":"c","type":"nominal"},
      "y":{"field":"v","type":"quantitative"},
      "color":{"field":"s","type":"nominal","scale":{"domain":["India","ASEAN","Japan","Korea","Australia","Other Asia Pacific","Acc. case"],"range":["#4ECDF4","#F9D12B","#23A68C","#6BE58E","#E6403E","#A5A5A5","#000000"]}},
      "shape":{"field":"s","type":"nominal","scale":{"domain":["India","ASEAN","Japan","Korea","Australia","Other Asia Pacific","Acc. case"],"range":["square","square","square","square","square","square","diamond"]},"legend":{"title":null}}}}]},
   {"data":{"values":[{"t":"亚太"}]},
    "layer":[
     {"mark":{"type":"rect","stroke":"#93A9CA","strokeWidth":1.5,"fill":{"gradient":"linear","x1":0,"y1":0,"x2":1,"y2":1,"stops":[{"offset":0,"color":"#76AAEE"},{"offset":1,"color":"#D8E9FA"}]}},
      "encoding":{"x":{"datum":0,"type":"quantitative","scale":{"domain":[0,1],"range":[75,196]},"axis":null},"x2":{"datum":1},"y":{"datum":0,"type":"quantitative","scale":{"domain":[0,1],"range":[-3,-40]},"axis":null},"y2":{"datum":1}}},
     {"mark":{"type":"text","font":"Noto Sans CJK SC","fontSize":20,"color":"#34507A"},
      "encoding":{"x":{"datum":0.5,"type":"quantitative","scale":{"domain":[0,1],"range":[75,196]},"axis":null},"y":{"datum":0.5,"type":"quantitative","scale":{"domain":[0,1],"range":[-3,-40]},"axis":null},"text":{"field":"t"}}}]}
  ]}
 ],"spacing":0,"bounds":"flush","resolve":{"scale":{"color":"independent","shape":"independent"}}},

{"width":1075,"height":480,
 "layer":[
  {"data":{"values":[{"line":0,"t":"10. 2021-2026年各国家可再生能源发电分析"}]},
   "mark":{"type":"text","align":"left","baseline":"middle","font":"Noto Sans CJK SC","fontSize":30,"fontWeight":"bold","color":"#BE1E23"},
   "encoding":{"x":{"datum":2,"type":"quantitative","scale":{"domain":[0,1,2,3,4],"range":[45,50,59,88,1012],"nice":false,"zero":false},"axis":null},"y":{"field":"line","type":"quantitative","scale":{"domain":[0,1,2,7],"range":[120,159,193,410],"nice":false,"zero":false},"axis":null},"text":{"field":"t"}}},
  {"data":{"values":[{"line":1}]},
   "mark":{"type":"rule","color":"#CD4E28","strokeWidth":5},
   "encoding":{"x":{"datum":0,"type":"quantitative","scale":{"domain":[0,1,2,3,4],"range":[45,50,59,88,1012],"nice":false,"zero":false},"axis":null},"x2":{"datum":4},"y":{"field":"line","type":"quantitative","scale":{"domain":[0,1,2,7],"range":[120,159,193,410],"nice":false,"zero":false},"axis":null}}},
  {"data":{"values":[{"line":2},{"line":4},{"line":6}]},
   "mark":{"type":"point","shape":"M-0.75,-1L0.75,-1L0.75,1L-0.75,1Z","filled":true,"color":"#E3141B","opacity":1,"size":196,"strokeWidth":0},
   "encoding":{"x":{"datum":1,"type":"quantitative","scale":{"domain":[0,1,2,3,4],"range":[45,50,59,88,1012],"nice":false,"zero":false},"axis":null},"y":{"field":"line","type":"quantitative","scale":{"domain":[0,1,2,7],"range":[120,159,193,410],"nice":false,"zero":false},"axis":null}}},
  {"data":{"values":[
    {"line":2,"t":"拉丁美洲可再生能源产能预计将增长34%，即96GW，可变可再生能源合计占区域扩张"},
    {"line":3,"t":"的84%。"},
    {"line":4,"t":"撒哈拉以南非洲地区可再生能源装机容量预计将增长76%，即近33GW，是上一个五年"},
    {"line":5,"t":"期间新增装机容量的两倍。"},
    {"line":6,"t":"中东和北非可再生能源产能增长速度预计在未来5年内将比过去5年翻一番，从15GW增"},
    {"line":7,"t":"长到超过32GW。"}]},
   "mark":{"type":"text","align":"left","baseline":"middle","font":"Noto Sans CJK SC","fontSize":24,"color":"#1F1F1F"},
   "encoding":{"x":{"datum":3,"type":"quantitative","scale":{"domain":[0,1,2,3,4],"range":[45,50,59,88,1012],"nice":false,"zero":false},"axis":null},"y":{"field":"line","type":"quantitative","scale":{"domain":[0,1,2,7],"range":[120,159,193,410],"nice":false,"zero":false},"axis":null},"text":{"field":"t"}}}
 ]},
{"hconcat":[
 {"width":90,"height":290,"data":{"values":[]},"mark":"text","encoding":{}},
 {"width":278,"height":201,
  "resolve":{"scale":{"x":"independent","y":"independent"}},
  "layer":[
   {"layer":[
    {"data":{"name":"la"},"mark":{"type":"bar","stroke":"#2B2B2B","strokeWidth":0.7,"opacity":1},
     "encoding":{
      "x":{"field":"c","type":"nominal","scale":{"paddingInner":0.4,"paddingOuter":0.2},"axis":{"title":null,"labelPadding":2,"labelFontSize":13.5}},
      "y":{"field":"v","type":"quantitative","stack":"zero","scale":{"domain":[0,25],"nice":false},"axis":{"values":[0,5,10,15,20,25],"tickCount":20,"format":"d","title":"GW","titleX":-45,"titleY":9,"titleAlign":"center","titleBaseline":"middle","labelPadding":10,"labelFontSize":13.5}},
      "color":{"field":"s","type":"nominal","scale":{"domain":["Brazil","Chile","Mexico","Colombia","Argentina","Other Latin America","Acc. case"],"range":["#6BE58E","#2E9F80","#4ECDF4","#3B6FC6","#A5A5A5","#B48BF0","#000000"]},
       "legend":{"orient":"none","direction":"horizontal","legendX":-25,"legendY":225,"columns":2,"gridAlign":"each","columnPadding":88,"rowPadding":0.5,"labelFontSize":13,"symbolSize":64,"title":null}},
      "order":{"field":"k","type":"quantitative"}}},
    {"data":{"name":"la_acc"},"mark":{"type":"point","filled":true,"opacity":1,"size":80,"strokeWidth":0},
     "encoding":{
      "x":{"field":"c","type":"nominal"},
      "y":{"field":"v","type":"quantitative"},
      "color":{"field":"s","type":"nominal","scale":{"domain":["Brazil","Chile","Mexico","Colombia","Argentina","Other Latin America","Acc. case"],"range":["#6BE58E","#2E9F80","#4ECDF4","#3B6FC6","#A5A5A5","#B48BF0","#000000"]}},
      "shape":{"field":"s","type":"nominal","scale":{"domain":["Brazil","Chile","Mexico","Colombia","Argentina","Other Latin America","Acc. case"],"range":["square","square","square","square","square","square","diamond"]},"legend":{"title":null}}}}]},
   {"data":{"values":[{"t":"拉丁美洲"}]},
    "layer":[
     {"mark":{"type":"rect","stroke":"#93A9CA","strokeWidth":1.5,"fill":{"gradient":"linear","x1":0,"y1":0,"x2":1,"y2":1,"stops":[{"offset":0,"color":"#76AAEE"},{"offset":1,"color":"#D8E9FA"}]}},
      "encoding":{"x":{"datum":0,"type":"quantitative","scale":{"domain":[0,1],"range":[30,238]},"axis":null},"x2":{"datum":1},"y":{"datum":0,"type":"quantitative","scale":{"domain":[0,1],"range":[-3,-41]},"axis":null},"y2":{"datum":1}}},
     {"mark":{"type":"text","font":"Noto Sans CJK SC","fontSize":20,"color":"#34507A"},
      "encoding":{"x":{"datum":0.5,"type":"quantitative","scale":{"domain":[0,1],"range":[30,238]},"axis":null},"y":{"datum":0.5,"type":"quantitative","scale":{"domain":[0,1],"range":[-3,-41]},"axis":null},"text":{"field":"t"}}}]}
  ]},
 {"width":45,"height":1,"data":{"values":[]},"mark":"text","encoding":{}},
 {"width":250,"height":201,
  "resolve":{"scale":{"x":"independent","y":"independent"}},
  "layer":[
   {"layer":[
    {"data":{"name":"ssa"},"mark":{"type":"bar","stroke":"#2B2B2B","strokeWidth":0.7,"opacity":1},
     "encoding":{
      "x":{"field":"c","type":"nominal","scale":{"paddingInner":0.42,"paddingOuter":0.21},"axis":{"title":null,"labelPadding":3,"labelFontSize":11.5}},
      "y":{"field":"v","type":"quantitative","stack":"zero","scale":{"domain":[0,12],"nice":false},"axis":{"values":[0,2,4,6,8,10,12],"tickCount":20,"format":"d","title":"GW","titleX":-35,"titleY":10,"titleAlign":"center","titleBaseline":"middle","labelPadding":9,"labelFontSize":11}},
      "color":{"field":"s","type":"nominal","scale":{"domain":["Ethiopia","Kenya","Tanzania","South Africa","Nigeria","Other sub-Saharan Africa","Acc. case"],"range":["#6BE58E","#3B6FC6","#F9D12B","#4ECDF4","#F0A30C","#B48BF0","#000000"]},
       "legend":{"orient":"none","direction":"horizontal","legendX":-16,"legendY":225.5,"columns":2,"gridAlign":"each","columnPadding":95,"rowPadding":2,"labelFontSize":11,"symbolSize":56,"title":null}},
      "order":{"field":"k","type":"quantitative"}}},
    {"data":{"name":"ssa_acc"},"mark":{"type":"point","filled":true,"opacity":1,"size":70,"strokeWidth":0},
     "encoding":{
      "x":{"field":"c","type":"nominal"},
      "y":{"field":"v","type":"quantitative"},
      "color":{"field":"s","type":"nominal","scale":{"domain":["Ethiopia","Kenya","Tanzania","South Africa","Nigeria","Other sub-Saharan Africa","Acc. case"],"range":["#6BE58E","#3B6FC6","#F9D12B","#4ECDF4","#F0A30C","#B48BF0","#000000"]}},
      "shape":{"field":"s","type":"nominal","scale":{"domain":["Ethiopia","Kenya","Tanzania","South Africa","Nigeria","Other sub-Saharan Africa","Acc. case"],"range":["square","square","square","square","square","square","diamond"]},"legend":{"title":null}}}}]},
   {"data":{"values":[{"t":"撒哈拉以南非洲地区"}]},
    "layer":[
     {"mark":{"type":"rect","stroke":"#93A9CA","strokeWidth":1.5,"fill":{"gradient":"linear","x1":0,"y1":0,"x2":1,"y2":1,"stops":[{"offset":0,"color":"#76AAEE"},{"offset":1,"color":"#D8E9FA"}]}},
      "encoding":{"x":{"datum":0,"type":"quantitative","scale":{"domain":[0,1],"range":[16,224]},"axis":null},"x2":{"datum":1},"y":{"datum":0,"type":"quantitative","scale":{"domain":[0,1],"range":[-3,-42]},"axis":null},"y2":{"datum":1}}},
     {"mark":{"type":"text","font":"Noto Sans CJK SC","fontSize":20,"color":"#34507A"},
      "encoding":{"x":{"datum":0.5,"type":"quantitative","scale":{"domain":[0,1],"range":[16,224]},"axis":null},"y":{"datum":0.5,"type":"quantitative","scale":{"domain":[0,1],"range":[-3,-42]},"axis":null},"text":{"field":"t"}}}]}
  ]},
 {"width":84,"height":1,"data":{"values":[]},"mark":"text","encoding":{}},
 {"width":275,"height":177,
  "resolve":{"scale":{"x":"independent","y":"independent"}},
  "layer":[
   {"layer":[
    {"data":{"name":"mena"},"mark":{"type":"bar","stroke":"#2B2B2B","strokeWidth":0.7,"opacity":1},
     "encoding":{
      "x":{"field":"c","type":"nominal","scale":{"domain":["UAE","Saudi Arabia","Israel","Egypt","Morocco","Other MENA"],"paddingInner":0.4,"paddingOuter":0.2},
       "axis":{"title":null,"labelPadding":1,"labelFontSize":13,"labelLineHeight":14,"labelExpr":"datum.value == 'Saudi Arabia' ? ['Saudi', 'Arabia'] : datum.value == 'Other MENA' ? ['Other', 'MENA'] : datum.value"}},
      "y":{"field":"v","type":"quantitative","stack":"zero","scale":{"domain":[0,8],"nice":false},"axis":{"values":[0,1,2,3,4,5,6,7,8],"tickCount":20,"format":"d","title":"GW","titleX":-42,"titleY":10,"titleAlign":"center","titleBaseline":"middle","labelPadding":12}},
      "color":{"field":"s","type":"nominal","scale":{"domain":["PV - utility","PV - distributed","Wind","Hydropower","Bioenergy","CSP"],"range":["#F9D12B","#F0A30C","#3B6FC6","#4ECDF4","#6BE58E","#E6403E"]},
       "legend":{"orient":"none","direction":"horizontal","legendX":15,"legendY":218,"columns":2,"gridAlign":"each","columnPadding":54,"rowPadding":4.3,"labelFontSize":14,"symbolSize":81,"symbolType":"square","title":null}},
      "order":{"field":"k","type":"quantitative"}}},
    {"data":{"values":[{"c":"Morocco","t":"中国石油流通协会"}]},
     "mark":{"type":"text","dy":170,"fontSize":27,"font":"Noto Sans CJK SC","color":"#B8B8B8","opacity":0.9},
     "encoding":{"x":{"field":"c","type":"nominal","bandPosition":-0.4},"text":{"field":"t"}}}]},
   {"data":{"values":[{"t":"中东和北非"}]},
    "layer":[
     {"mark":{"type":"rect","stroke":"#93A9CA","strokeWidth":1.5,"fill":{"gradient":"linear","x1":0,"y1":0,"x2":1,"y2":1,"stops":[{"offset":0,"color":"#76AAEE"},{"offset":1,"color":"#D8E9FA"}]}},
      "encoding":{"x":{"datum":0,"type":"quantitative","scale":{"domain":[0,1],"range":[22,230]},"axis":null},"x2":{"datum":1},"y":{"datum":0,"type":"quantitative","scale":{"domain":[0,1],"range":[-3,-42]},"axis":null},"y2":{"datum":1}}},
     {"mark":{"type":"text","font":"Noto Sans CJK SC","fontSize":20,"color":"#34507A"},
      "encoding":{"x":{"datum":0.5,"type":"quantitative","scale":{"domain":[0,1],"range":[22,230]},"axis":null},"y":{"datum":0.5,"type":"quantitative","scale":{"domain":[0,1],"range":[-3,-42]},"axis":null},"text":{"field":"t"}}}]}
  ]}
 ],"spacing":0,"bounds":"flush","resolve":{"scale":{"color":"independent","shape":"independent"}}}
],
"config":{
 "view":{"stroke":null},
 "axis":{"labelFont":"Liberation Sans","titleFont":"Liberation Sans","labelColor":"#333333","titleColor":"#333333","titleFontWeight":"normal","labelFontSize":12,"titleFontSize":12},
 "axisX":{"domainColor":"#A0A0A0","tickColor":"#A0A0A0","grid":false,"labelAngle":0,"tickBand":"extent","tickSize":4},
 "axisY":{"domain":false,"ticks":false,"gridColor":"#DCDCDC"},
 "legend":{"labelFont":"Liberation Sans","labelColor":"#262626","symbolStrokeColor":"#333333","symbolStrokeWidth":0.8,"labelOffset":3,"padding":0}
}
}
